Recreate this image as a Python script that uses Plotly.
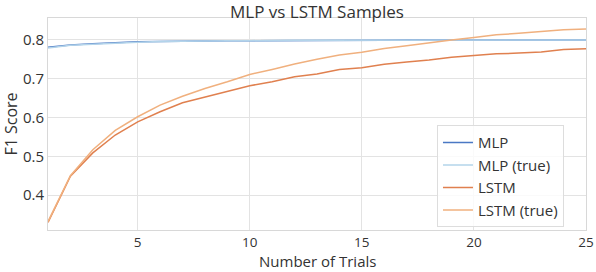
import plotly.graph_objects as go

trials = list(range(1, 26))
mlp = [0.781, 0.787, 0.790, 0.793, 0.795, 0.796, 0.797, 0.797, 0.798, 0.798, 0.798, 0.799, 0.799,
       0.799, 0.799, 0.799, 0.800, 0.800, 0.800, 0.800, 0.800, 0.800, 0.800, 0.800, 0.800]
mlp_true = [0.779, 0.786, 0.789, 0.792, 0.794, 0.796, 0.797, 0.797, 0.798, 0.798, 0.799, 0.799, 0.799,
            0.799, 0.800, 0.800, 0.800, 0.800, 0.800, 0.800, 0.800, 0.800, 0.800, 0.800, 0.800]
lstm = [0.330, 0.449, 0.509, 0.555, 0.589, 0.615, 0.638, 0.653, 0.669, 0.682, 0.692, 0.705, 0.712,
        0.724, 0.728, 0.737, 0.743, 0.748, 0.755, 0.759, 0.764, 0.766, 0.769, 0.775, 0.777]
lstm_true = [0.332, 0.450, 0.517, 0.567, 0.602, 0.632, 0.655, 0.675, 0.692, 0.711, 0.724, 0.738, 0.750,
             0.761, 0.768, 0.778, 0.785, 0.793, 0.800, 0.806, 0.813, 0.817, 0.821, 0.826, 0.828]

names = ["MLP", "MLP (true)", "LSTM", "LSTM (true)"]
series = [mlp, mlp_true, lstm, lstm_true]
colors = ["#4a78c4", "#b3d4ea", "#e0804f", "#f0b07e"]

FONT = "Open Sans"
fig = go.Figure()
for n, s, c in zip(names, series, colors):
    fig.add_trace(go.Scatter(x=trials, y=s, name=n, mode="lines",
                             line=dict(color=c, width=1.5)))

fig.update_layout(
    width=596, height=272,
    margin=dict(l=48, r=10, t=18, b=42),
    paper_bgcolor="white", plot_bgcolor="white",
    font=dict(family=FONT, size=15, color="#333333"),
    title=dict(text="MLP vs LSTM Samples", x=0.5, xref="paper", y=1 - 12 / 272, yanchor="middle",
               font=dict(size=17, color="#333333")),
    xaxis=dict(range=[1, 25], tickvals=[5, 10, 15, 20, 25], showgrid=True, gridcolor="#e3e3e3",
               showline=True, linecolor="#d8d8d8", mirror=True, zeroline=False, ticks="",
               ticklabeloverflow="allow", automargin=False,
               tickfont=dict(size=13.5)),
    yaxis=dict(range=[0.3103, 0.8564], tickvals=[0.4, 0.5, 0.6, 0.7, 0.8], showgrid=True,
               gridcolor="#e3e3e3", showline=True, linecolor="#d8d8d8", mirror=True, zeroline=False,
               ticks="", tickformat=".1f", automargin=False,
               title=dict(text="F1 Score", font=dict(size=16), standoff=4),
               tickfont=dict(size=15)),
    legend=dict(x=0.723, y=0.494, xanchor="left", yanchor="top",
                bgcolor="rgba(255,255,255,0.8)", bordercolor="#dddddd", borderwidth=1,
                font=dict(size=15, color="#333333"), itemwidth=30),
    annotations=[dict(text="Number of Trials", xref="paper", yref="paper", x=0.5, y=-42 / 212,
                      xanchor="center", yanchor="bottom", showarrow=False, borderpad=0,
                      font=dict(size=15, color="#333333"))],
)

fig.write_html("out.html", post_script="document.body.style.margin='0';",
               config={"displayModeBar": False})
